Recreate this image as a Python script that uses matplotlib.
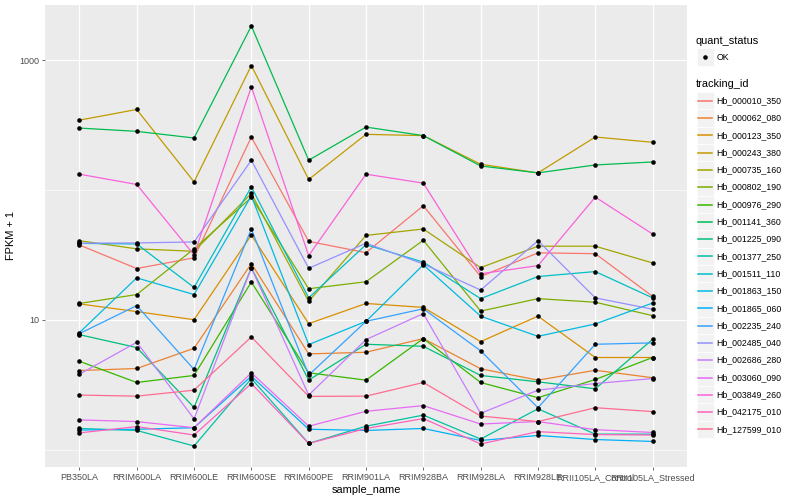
import matplotlib
matplotlib.use("Agg")
import matplotlib.pyplot as plt
from matplotlib.lines import Line2D
from matplotlib.patches import Rectangle
import numpy as np

plt.rcParams["font.family"] = ["Liberation Sans", "DejaVu Sans"]

samples = ["PB350LA", "RRIM600LA", "RRIM600LE", "RRIM600SE", "RRIM600PE",
           "RRIM901LA", "RRIM928BA", "RRIM928LA", "RRIM928LE",
           "RRII105LA_Control", "RRII105LA_Stressed"]

tracking_ids = ["Hb_000010_350", "Hb_000062_080", "Hb_000123_350", "Hb_000243_380",
                "Hb_000735_160", "Hb_000802_190", "Hb_000976_290", "Hb_001141_360",
                "Hb_001225_090", "Hb_001377_250", "Hb_001511_110", "Hb_001863_150",
                "Hb_001865_060", "Hb_002235_240", "Hb_002485_040", "Hb_002686_280",
                "Hb_003060_090", "Hb_003849_260", "Hb_042175_010", "Hb_127599_010"]

# ggplot default hue palette for 20 groups
colours = ["#F8766D", "#EA8331", "#D89000", "#C09B00", "#A3A500", "#7CAE00",
           "#39B600", "#00BB4E", "#00BF7D", "#00C1A3", "#00BFC4", "#00BAE0",
           "#00B0F6", "#35A2FF", "#9590FF", "#C77CFF", "#E76BF3", "#FA62DB",
           "#FF62BC", "#FF6C91"]

# FPKM + 1 per tracking_id, in sample order
hb_000010_350 = [37.8, 24.9, 30.1, 256.5, 40.3, 33.0, 75.8, 21.6, 32.9, 32.4, 15.2]
hb_000062_080 = [4.08, 4.23, 6.05, 27.2, 5.48, 5.64, 7.19, 4.21, 3.44, 4.10, 3.59]
hb_000123_350 = [13.3, 11.6, 10.05, 45.1, 9.37, 13.4, 12.5, 6.81, 10.7, 5.14, 5.14]
hb_000243_380 = [346, 418, 115.8, 911, 120.8, 269, 263, 158.3, 135.7, 256.5, 233.6]
hb_000735_160 = [40.8, 35.3, 33.8, 94.3, 13.9, 44.8, 50.2, 25.3, 37.0, 37.0, 27.5]
hb_000802_190 = [13.4, 15.7, 35.3, 87.9, 17.4, 19.7, 41.1, 11.7, 14.6, 13.7, 10.8]
hb_000976_290 = [4.81, 3.30, 3.74, 19.6, 3.92, 3.44, 7.19, 3.30, 2.52, 3.48, 5.14]
hb_001141_360 = [300.6, 283.6, 252, 1837, 170, 306, 263, 153.5, 135.8, 156.3, 164.8]
hb_001225_090 = [7.71, 6.13, 2.12, 25.2, 3.44, 6.50, 6.27, 3.74, 3.34, 2.95, 7.10]
hb_001377_250 = [1.46, 1.41, 1.07, 3.54, 1.12, 1.52, 1.85, 1.21, 2.07, 1.32, 1.32]
hb_001511_110 = [38.9, 38.5, 17.8, 106, 14.8, 38.0, 27.9, 14.6, 21.6, 23.6, 14.8]
hb_001863_150 = [7.99, 21.1, 15.7, 90.4, 6.46, 9.76, 26.6, 10.7, 7.48, 9.32, 13.5]
hb_001865_060 = [1.42, 1.44, 1.48, 3.69, 1.44, 1.41, 1.46, 1.18, 1.29, 1.20, 1.16]
hb_002235_240 = [7.85, 12.9, 4.16, 50.2, 3.76, 9.76, 12.2, 5.78, 2.11, 6.50, 6.66]
hb_002485_040 = [39.0, 39.2, 39.9, 170, 25.0, 39.0, 27.0, 17.0, 40.8, 14.8, 12.1]
hb_002686_280 = [3.82, 6.73, 1.73, 25.2, 2.64, 7.06, 11.2, 1.91, 2.88, 3.24, 3.54]
hb_003060_090 = [1.70, 1.65, 1.48, 3.92, 1.52, 1.98, 2.19, 1.58, 1.65, 1.43, 1.36]
hb_003849_260 = [132.7, 110.6, 31.7, 625, 31.3, 132.7, 113.2, 22.7, 26.2, 88.4, 45.9]
hb_042175_010 = [1.35, 1.51, 1.30, 3.24, 1.12, 1.46, 1.74, 1.11, 1.38, 1.31, 1.30]
hb_127599_010 = [2.64, 2.59, 2.88, 7.40, 2.58, 2.59, 3.30, 1.82, 1.65, 2.11, 1.97]

series = [hb_000010_350, hb_000062_080, hb_000123_350, hb_000243_380,
          hb_000735_160, hb_000802_190, hb_000976_290, hb_001141_360,
          hb_001225_090, hb_001377_250, hb_001511_110, hb_001863_150,
          hb_001865_060, hb_002235_240, hb_002485_040, hb_002686_280,
          hb_003060_090, hb_003849_260, hb_042175_010, hb_127599_010]

W, H = 800, 500
fig = plt.figure(figsize=(W / 100, H / 100), dpi=100)
ax = fig.add_axes([45 / W, 33 / H, (687 - 45) / W, (495 - 33) / H])
ax.set_facecolor("#EBEBEB")
for s in ax.spines.values():
    s.set_visible(False)

x = np.arange(len(samples))
for vals, col in zip(series, colours):
    ax.plot(x, vals, color=col, lw=0.9, zorder=3)
for vals in series:
    ax.plot(x, vals, "o", color="black", ms=3.3, mew=0, zorder=4)

# log scale with 5% expansion, like ggplot
ax.set_yscale("log")
logs = np.log10(np.concatenate(series))
lo, hi = logs.min(), logs.max()
pad = 0.05 * (hi - lo)
ax.set_ylim(10 ** (lo - pad), 10 ** (hi + pad))
ax.set_xlim(-0.6, len(samples) - 0.4)

ax.set_yticks([10, 1000])
ax.set_yticklabels(["10", "1000"])
ax.set_yticks([1, 100], minor=True)
ax.set_yticklabels([], minor=True)
ax.set_xticks(x)
ax.set_xticklabels(samples)
ax.grid(which="major", color="white", lw=0.9, zorder=0)
ax.grid(which="minor", axis="y", color="white", lw=0.45, zorder=0)
ax.set_axisbelow(True)
ax.tick_params(which="major", length=2.2, width=0.5, color="#333333",
               labelcolor="#4D4D4D", labelsize=6.5, pad=2)
ax.tick_params(which="minor", length=0)
ax.set_xlabel("sample_name", fontsize=7.9, labelpad=2)
ax.set_ylabel("FPKM + 1", fontsize=7.9, labelpad=2)


def fx(px):
    return px / W


def fy(py):
    return 1 - py / H


# legend: quant_status
fig.text(fx(696), fy(40.5), "quant_status", fontsize=7.9, va="center", ha="left")
fig.add_artist(Rectangle((fx(696.5), fy(65.5)), 17 / W, 17 / H,
                         facecolor="#F2F2F2", edgecolor="white", lw=0.5,
                         transform=fig.transFigure))
fig.add_artist(Line2D([fx(705)], [fy(57)], marker="o", color="black", ms=3.3,
                      mew=0, transform=fig.transFigure))
fig.text(fx(716.5), fy(57), "OK", fontsize=6.3, va="center", ha="left")

# legend: tracking_id
fig.text(fx(696), fy(84.3), "tracking_id", fontsize=7.9, va="center", ha="left")
step = 17.3
for i, (name, col) in enumerate(zip(tracking_ids, colours)):
    yc = 100.7 + i * step
    fig.add_artist(Rectangle((fx(696.5), fy(yc + step / 2)), 17 / W, step / H,
                             facecolor="#F2F2F2", edgecolor="white", lw=0.5,
                             transform=fig.transFigure))
    fig.add_artist(Line2D([fx(698), fx(711.5)], [fy(yc), fy(yc)], color=col,
                          lw=1.1, transform=fig.transFigure))
    fig.text(fx(716.5), fy(yc), name, fontsize=6.3, va="center", ha="left")

fig.savefig("out.png", dpi=100)
